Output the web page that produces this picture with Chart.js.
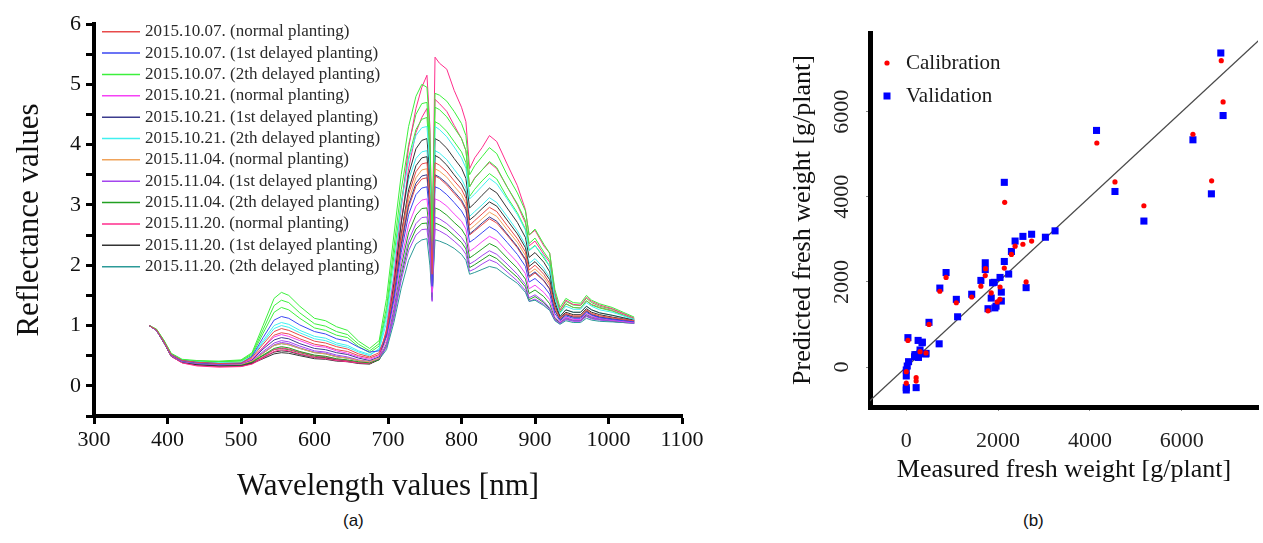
<!DOCTYPE html>
<html lang="en">
<head>
    <meta charset="UTF-8">
    <title>Reflectance spectra and fresh weight prediction</title>
    <script src="https://cdn.jsdelivr.net/npm/chart.js@4.4.1/dist/chart.umd.min.js"></script>
    <style>
        body { margin: 0; background: #fff; width: 1263px; height: 543px; overflow: hidden; position: relative; }
        .panel { position: absolute; top: 0; }
        .tag { position: absolute; top: 512px; font: 17px "Liberation Sans", Arial, sans-serif; line-height: 1; color: #111; }
    </style>
</head>
<body>
    <div class="panel" style="left:0px; width:720px; height:505px;"><canvas id="spectra" width="720" height="505"></canvas></div>
    <div class="panel" style="left:780px; width:483px; height:505px;"><canvas id="weight" width="483" height="505"></canvas></div>
    <div class="tag" style="left:343px;">(a)</div>
    <div class="tag" style="left:1023px;">(b)</div>

    <script>
        // ---- panel (a): reflectance spectra ----
        const wavelengths = [375,385,395,405,420,440,470,500,515,530,545,555,565,580,600,615,630,645,660,675,
            688,698,708,718,728,738,746,753,757,760,764,770,780,790,800,806,811,818,
            828,838,848,862,876,887,892,900,912,920,927,934,942,952,962,970,977,988,1005,1020,1035];

        const refl_1007_normal = [1.0,0.93,0.74,0.52,0.42,0.39,0.37,0.38,
            0.47,0.69,0.90,0.95,0.92,0.84,0.74,0.71,0.65,0.61,0.53,0.48,
            0.55,0.89,1.59,2.48,3.18,3.55,3.68,3.70, 3.15,1.85,3.70,
            3.66,3.55,3.40,3.26,3.11,2.66,2.74,
            2.85,2.96,2.89,2.66,2.44,2.22,1.92,2.00,1.85,1.70,
            1.30,1.12,1.20,1.16,1.16,1.26,1.20,1.16,1.13,1.10,1.08];
        const refl_1007_1st = [1.0,0.92,0.73,0.51,0.41,0.38,0.36,0.37,
            0.49,0.80,1.09,1.15,1.12,1.01,0.90,0.86,0.78,0.74,0.64,0.56,
            0.58,0.82,1.42,2.21,2.84,3.17,3.28,3.30, 2.80,1.65,3.30,
            3.27,3.17,3.04,2.90,2.77,2.38,2.44,
            2.54,2.64,2.57,2.38,2.18,1.98,1.72,1.78,1.65,1.52,
            1.20,1.08,1.16,1.12,1.12,1.22,1.17,1.13,1.10,1.08,1.06];
        const refl_1007_2th = [1.0,0.94,0.76,0.54,0.44,0.42,0.41,0.43,
            0.55,1.00,1.45,1.55,1.50,1.32,1.12,1.08,0.98,0.92,0.74,0.62,
            0.75,1.45,2.50,3.50,4.30,4.80,5.00,4.95, 4.20,2.40,4.85,
            4.82,4.72,4.55,4.35,4.15,3.50,3.65,
            3.80,3.95,3.85,3.50,3.20,2.90,2.50,2.60,2.35,2.20,
            1.60,1.30,1.45,1.38,1.37,1.50,1.42,1.36,1.30,1.22,1.14];
        const refl_1021_normal = [1.0,0.92,0.73,0.51,0.41,0.38,0.36,0.37,
            0.44,0.63,0.81,0.85,0.82,0.75,0.66,0.64,0.58,0.54,0.48,0.44,
            0.50,0.75,1.33,2.08,2.67,2.98,3.08,3.10, 2.64,1.55,3.10,
            3.07,2.98,2.85,2.73,2.60,2.23,2.29,
            2.39,2.48,2.42,2.23,2.05,1.86,1.61,1.67,1.55,1.43,
            1.15,1.06,1.14,1.10,1.10,1.20,1.15,1.12,1.09,1.07,1.05];
        const refl_1021_1st = [1.0,0.93,0.74,0.52,0.42,0.39,0.37,0.37,
            0.43,0.61,0.76,0.80,0.78,0.70,0.62,0.60,0.55,0.52,0.46,0.42,
            0.48,0.84,1.50,2.35,3.00,3.36,3.48,3.50, 2.98,1.75,3.50,
            3.46,3.36,3.22,3.08,2.94,2.52,2.59,
            2.70,2.80,2.73,2.52,2.31,2.10,1.82,1.89,1.75,1.61,
            1.25,1.10,1.18,1.14,1.14,1.24,1.18,1.14,1.11,1.09,1.07];
        const refl_1021_2th = [1.0,0.93,0.75,0.53,0.43,0.40,0.38,0.39,
            0.48,0.72,0.95,1.00,0.97,0.88,0.78,0.75,0.68,0.64,0.56,0.50,
            0.62,1.15,2.00,3.00,3.75,4.15,4.28,4.30, 3.65,2.15,4.30,
            4.25,4.13,3.96,3.78,3.61,3.10,3.18,
            3.31,3.44,3.35,3.10,2.84,2.58,2.24,2.32,2.15,1.98,
            1.45,1.20,1.32,1.27,1.27,1.38,1.32,1.26,1.22,1.16,1.10];
        const refl_1104_normal = [1.0,0.92,0.73,0.51,0.41,0.38,0.36,0.36,
            0.41,0.54,0.67,0.70,0.68,0.62,0.55,0.53,0.48,0.46,0.42,0.40,
            0.46,0.82,1.50,2.40,3.08,3.45,3.58,3.60, 3.06,1.80,3.60,
            3.56,3.46,3.31,3.17,3.02,2.59,2.66,
            2.77,2.88,2.81,2.59,2.38,2.16,1.87,1.94,1.80,1.66,
            1.28,1.10,1.19,1.15,1.15,1.25,1.19,1.15,1.12,1.10,1.07];
        const refl_1104_1st = [1.0,0.92,0.73,0.50,0.40,0.37,0.35,0.36,
            0.42,0.57,0.71,0.75,0.73,0.66,0.58,0.56,0.51,0.48,0.43,0.40,
            0.45,0.68,1.20,1.88,2.41,2.69,2.79,2.80, 2.38,1.40,2.80,
            2.77,2.69,2.58,2.46,2.35,2.02,2.07,
            2.16,2.24,2.18,2.02,1.85,1.68,1.46,1.51,1.40,1.29,
            1.10,1.04,1.12,1.08,1.08,1.17,1.13,1.10,1.08,1.06,1.04];
        const refl_1104_2th = [1.0,0.92,0.72,0.50,0.40,0.37,0.35,0.35,
            0.40,0.51,0.62,0.65,0.63,0.57,0.51,0.49,0.45,0.43,0.40,0.38,
            0.44,0.70,1.27,1.98,2.54,2.83,2.94,2.95, 2.50,1.48,2.95,
            2.92,2.83,2.71,2.60,2.48,2.12,2.18,
            2.27,2.36,2.30,2.12,1.95,1.77,1.53,1.59,1.48,1.36,
            1.12,1.05,1.13,1.09,1.09,1.18,1.14,1.11,1.08,1.06,1.05];
        const refl_1120_normal = [1.0,0.92,0.72,0.49,0.38,0.33,0.31,0.32,
            0.36,0.46,0.57,0.60,0.58,0.53,0.47,0.45,0.42,0.40,0.38,0.37,
            0.45,0.95,1.80,2.95,3.95,4.60,4.95,5.15, 4.30,2.30,5.45,
            5.35,5.25,4.90,4.62,4.38,3.60,3.78,
            3.95,4.15,4.05,3.68,3.32,2.92,2.50,2.58,2.32,2.20,
            1.55,1.25,1.42,1.35,1.34,1.47,1.40,1.34,1.28,1.20,1.12];
        const refl_1120_1st = [1.0,0.92,0.72,0.49,0.39,0.35,0.33,0.33,
            0.37,0.45,0.53,0.55,0.54,0.50,0.45,0.44,0.41,0.40,0.37,0.36,
            0.44,0.90,1.70,2.70,3.50,3.93,4.07,4.10, 3.48,2.05,4.10,
            4.06,3.94,3.77,3.61,3.44,2.95,3.03,
            3.16,3.28,3.20,2.95,2.71,2.46,2.13,2.21,2.05,1.89,
            1.40,1.15,1.26,1.22,1.22,1.32,1.26,1.21,1.17,1.13,1.09];
        const refl_1120_2th = [1.0,0.93,0.73,0.50,0.40,0.37,0.35,0.35,
            0.41,0.54,0.67,0.70,0.68,0.62,0.55,0.53,0.48,0.46,0.42,0.40,
            0.44,0.60,1.05,1.62,2.08,2.35,2.42,2.44, 2.00,1.47,2.42,
            2.40,2.35,2.28,2.18,2.08,1.85,1.88,
            1.93,1.98,1.95,1.82,1.70,1.55,1.40,1.42,1.33,1.25,
            1.08,1.02,1.08,1.05,1.05,1.12,1.09,1.07,1.06,1.05,1.04];

        // further plants of the same dates (no legend entry of their own)
        const rep_1007_2th_a = [1.0,0.94,0.75,0.53,0.43,0.41,0.40,0.42,
            0.53,0.93,1.33,1.42,1.38,1.21,1.03,0.99,0.90,0.85,0.69,0.58,
            0.70,1.30,2.30,3.25,4.00,4.50,4.68,4.70, 3.95,2.30,4.62,
            4.58,4.46,4.28,4.10,3.90,3.30,3.44,
            3.58,3.72,3.62,3.30,3.02,2.74,2.36,2.45,2.22,2.08,
            1.52,1.26,1.40,1.34,1.33,1.45,1.38,1.32,1.27,1.20,1.12];
        const rep_1007_2th_b = [1.0,0.93,0.75,0.53,0.43,0.41,0.40,0.41,
            0.51,0.87,1.22,1.30,1.26,1.12,0.96,0.92,0.84,0.80,0.65,0.55,
            0.66,1.20,2.15,3.05,3.78,4.25,4.42,4.45, 3.75,2.20,4.38,
            4.34,4.22,4.05,3.88,3.70,3.14,3.26,
            3.40,3.52,3.43,3.13,2.87,2.60,2.25,2.33,2.12,1.98,
            1.47,1.22,1.36,1.30,1.29,1.41,1.34,1.29,1.24,1.17,1.10];
        const rep_1120_normal = [1.0,0.92,0.72,0.49,0.38,0.34,0.32,0.32,
            0.37,0.48,0.60,0.63,0.61,0.56,0.50,0.48,0.44,0.42,0.39,0.38,
            0.45,0.90,1.68,2.70,3.60,4.20,4.45,4.60, 3.90,2.20,4.75,
            4.68,4.55,4.32,4.10,3.90,3.30,3.45,
            3.58,3.70,3.60,3.30,3.00,2.70,2.32,2.40,2.18,2.05,
            1.48,1.22,1.36,1.30,1.29,1.41,1.35,1.30,1.25,1.18,1.10];
        const rep_1120_1st = [1.0,0.92,0.72,0.49,0.39,0.35,0.33,0.34,
            0.38,0.47,0.56,0.58,0.57,0.52,0.47,0.46,0.43,0.41,0.38,0.37,
            0.44,0.86,1.60,2.52,3.25,3.65,3.78,3.80, 3.22,1.90,3.82,
            3.78,3.66,3.50,3.35,3.20,2.75,2.82,
            2.94,3.05,2.98,2.75,2.52,2.29,1.98,2.06,1.90,1.76,
            1.34,1.13,1.22,1.18,1.18,1.28,1.22,1.18,1.14,1.11,1.08];
        const rep_1021_2th = [1.0,0.93,0.75,0.53,0.43,0.40,0.38,0.39,
            0.49,0.75,1.00,1.05,1.02,0.92,0.82,0.79,0.71,0.67,0.58,0.52,
            0.60,1.05,1.82,2.75,3.42,3.77,3.88,3.90, 3.30,1.95,3.90,
            3.86,3.75,3.59,3.43,3.28,2.81,2.89,
            3.00,3.12,3.04,2.81,2.57,2.34,2.03,2.11,1.95,1.80,
            1.38,1.16,1.26,1.22,1.22,1.32,1.26,1.21,1.17,1.13,1.09];
        const rep_1104_1st = [1.0,0.92,0.72,0.50,0.40,0.37,0.35,0.35,
            0.41,0.55,0.68,0.72,0.70,0.63,0.56,0.54,0.49,0.46,0.42,0.39,
            0.44,0.64,1.12,1.75,2.24,2.50,2.59,2.60, 2.20,1.42,2.60,
            2.57,2.50,2.40,2.29,2.18,1.90,1.94,
            2.02,2.09,2.04,1.89,1.74,1.58,1.40,1.44,1.35,1.26,
            1.09,1.03,1.10,1.07,1.07,1.15,1.11,1.09,1.07,1.05,1.04];
        const rep_1104_2th = [1.0,0.92,0.72,0.50,0.40,0.37,0.35,0.35,
            0.39,0.50,0.60,0.62,0.60,0.55,0.49,0.47,0.44,0.42,0.39,0.37,
            0.43,0.66,1.17,1.82,2.33,2.60,2.69,2.70, 2.30,1.45,2.70,
            2.67,2.60,2.49,2.38,2.27,1.96,2.01,
            2.09,2.17,2.11,1.95,1.80,1.64,1.43,1.48,1.38,1.28,
            1.10,1.04,1.11,1.08,1.08,1.16,1.12,1.10,1.07,1.05,1.04];
        const rep_1007_normal = [1.0,0.93,0.74,0.52,0.42,0.39,0.37,0.37,
            0.45,0.64,0.84,0.88,0.86,0.78,0.69,0.66,0.60,0.57,0.50,0.46,
            0.52,0.82,1.47,2.30,2.96,3.31,3.43,3.45, 2.94,1.78,3.48,
            3.44,3.33,3.19,3.05,2.91,2.50,2.57,
            2.67,2.77,2.70,2.50,2.29,2.08,1.80,1.87,1.74,1.60,
            1.25,1.10,1.18,1.14,1.14,1.24,1.18,1.14,1.11,1.09,1.07];

        const seriesLabels = [
            '2015.10.07. (normal planting)', '2015.10.07. (1st delayed planting)', '2015.10.07. (2th delayed planting)',
            '2015.10.21. (normal planting)', '2015.10.21. (1st delayed planting)', '2015.10.21. (2th delayed planting)',
            '2015.11.04. (normal planting)', '2015.11.04. (1st delayed planting)', '2015.11.04. (2th delayed planting)',
            '2015.11.20. (normal planting)', '2015.11.20. (1st delayed planting)', '2015.11.20. (2th delayed planting)'
        ];
        const seriesValues = [refl_1007_normal, refl_1007_1st, refl_1007_2th, refl_1021_normal, refl_1021_1st, refl_1021_2th,
            refl_1104_normal, refl_1104_1st, refl_1104_2th, refl_1120_normal, refl_1120_1st, refl_1120_2th];
        const seriesColors = ['#e84a4a', '#3a46f2', '#3cf03c', '#f542f5', '#3c3c8e', '#40f0f0',
            '#f0a35a', '#a445ee', '#22a022', '#ff2d8c', '#333333', '#2c9a98'];
        const replicateValues = [rep_1007_2th_a, rep_1007_2th_b, rep_1120_normal, rep_1120_1st,
            rep_1021_2th, rep_1104_1st, rep_1104_2th, rep_1007_normal];
        const replicateGroup = [2, 2, 9, 10, 5, 7, 8, 0];
        const xTicksA = [300,350,400,450,500,550,600,650,700,750,800,850,900,950,1000,1050,1100];
        const yTicksA = [-0.5,0,0.5,1,1.5,2,2.5,3,3.5,4,4.5,5,5.5,6];

        // ---- panel (b): measured vs predicted fresh weight ----
        const calMeasured = [6860,6900,4150,6243,4545,6650,5175,2143,2730,2540,2370,2290,2135,2042,2610,1720,1727,1625,1850,
            1980,2040,1780,1425,1090,867,731,495,36,300,430,0,0,215,215];
        const calPredicted = [7200,6230,5265,5470,4350,4375,3790,3870,2960,2885,2840,2645,2325,1880,2000,2150,2310,1900,1740,
            1530,1590,1320,1645,1510,2105,1780,1000,625,360,330,-110,-380,-250,-330];
        const valMeasured = [6850,6900,4143,6243,4545,6645,5175,2135,3240,3030,2730,2540,2370,2290,2135,2230,2042,2610,
            1720,1720,1625,1880,1915,1850,2070,2070,1955,1930,1780,1425,1090,867,731,1118,495,716,
            36,258,344,300,300,430,187,222,50,21,0,0,0,0,215,180,266,350,423];
        const valPredicted = [7380,5910,5560,5340,4125,4070,3430,4340,3200,3050,3120,3070,2960,2715,2480,2185,2105,1865,
            2450,2290,2035,1980,1990,1620,1760,1550,1430,1390,1370,1710,1590,2220,1855,1180,1050,545,
            690,625,570,400,320,320,290,290,125,23,-70,-210,-485,-540,-485,240,225,585,305];
        const oneToOne = [-900, 7900];
        const xTicksB = [0,2000,4000,6000];
        const yTicksB = [0,2000,4000,6000];

        const serif = '"Liberation Serif", "Times New Roman", serif';

        // small legend drawn at a fixed offset inside the plot area
        const panelLegend = {
            id: 'panelLegend',
            afterDraw(chart, args, o) {
                const {ctx, chartArea} = chart;
                ctx.save();
                ctx.font = o.font;
                ctx.textBaseline = 'middle';
                let row = 0;
                chart.data.datasets.forEach(ds => {
                    if (!ds.label) return;
                    const x = chartArea.left + o.x;
                    const y = chartArea.top + o.y + row * o.rowH;
                    if (o.symbol === 'line') {
                        ctx.strokeStyle = ds.borderColor;
                        ctx.lineWidth = 1.5;
                        ctx.beginPath();
                        ctx.moveTo(x, y);
                        ctx.lineTo(x + o.symbolW, y);
                        ctx.stroke();
                    } else {
                        ctx.fillStyle = ds.backgroundColor;
                        const cx = x + o.symbolW / 2;
                        if (ds.pointStyle === 'rect') {
                            ctx.fillRect(cx - 3.5, y - 3.5, 7, 7);
                        } else {
                            ctx.beginPath();
                            ctx.arc(cx, y, 2.6, 0, Math.PI * 2);
                            ctx.fill();
                        }
                    }
                    ctx.fillStyle = o.color;
                    ctx.fillText(ds.label, x + o.symbolW + o.gap, y);
                    row++;
                });
                ctx.restore();
            }
        };

        const spectraDatasets = seriesValues.map((vals, i) => ({
            label: seriesLabels[i],
            data: wavelengths.map((w, j) => ({x: w, y: vals[j]})),
            borderColor: seriesColors[i],
            borderWidth: 1,
            pointRadius: 0,
            fill: false,
            tension: 0
        }));
        replicateValues.forEach((vals, i) => {
            spectraDatasets.push({
                label: '',
                data: wavelengths.map((w, j) => ({x: w, y: vals[j]})),
                borderColor: seriesColors[replicateGroup[i]],
                borderWidth: 1,
                pointRadius: 0,
                fill: false,
                tension: 0
            });
        });

        new Chart(document.getElementById('spectra'), {
            type: 'line',
            data: { datasets: spectraDatasets },
            plugins: [panelLegend],
            options: {
                responsive: false,
                animation: false,
                devicePixelRatio: 1,
                layout: { padding: { top: 24, right: 38, left: 0, bottom: 0 } },
                plugins: {
                    legend: { display: false },
                    tooltip: { enabled: false },
                    panelLegend: { x: 8, y: 7.7, rowH: 21.36, symbolW: 38, gap: 5, symbol: 'line',
                        font: '17px ' + serif, color: '#2a2a2a' }
                },
                scales: {
                    x: {
                        type: 'linear', min: 300, max: 1100,
                        afterBuildTicks: s => { s.ticks = xTicksA.map(v => ({value: v})); },
                        afterFit: s => { s.height = 89; },
                        grid: { drawOnChartArea: false, tickLength: 8, tickWidth: 3, tickColor: '#000' },
                        border: { color: '#000', width: 4 },
                        ticks: { color: '#111', padding: 3, maxRotation: 0, font: { family: serif, size: 22 },
                            callback: v => v % 100 === 0 ? String(v) : '' },
                        title: { display: true, text: 'Wavelength values [nm]', color: '#111',
                            font: { family: serif, size: 31, lineHeight: 1.15 }, padding: { top: 0, bottom: 0 } }
                    },
                    y: {
                        min: -0.5, max: 6,
                        afterBuildTicks: s => { s.ticks = yTicksA.map(v => ({value: v})); },
                        afterFit: s => { s.width = 94; },
                        grid: { drawOnChartArea: false, tickLength: 8, tickWidth: 3, tickColor: '#000' },
                        border: { color: '#000', width: 4 },
                        ticks: { color: '#111', padding: 5, font: { family: serif, size: 22 },
                            callback: v => Number.isInteger(v) ? String(v) : '' },
                        title: { display: true, text: 'Reflectance values', color: '#111',
                            font: { family: serif, size: 31, lineHeight: 1.15 }, padding: { top: 12, bottom: 0 } }
                    }
                }
            }
        });

        new Chart(document.getElementById('weight'), {
            type: 'scatter',
            data: {
                datasets: [
                    {
                        label: 'Calibration',
                        data: calMeasured.map((m, i) => ({x: m, y: calPredicted[i]})),
                        pointStyle: 'circle', pointRadius: 2.6, borderWidth: 0,
                        backgroundColor: '#ff0000', borderColor: '#ff0000'
                    },
                    {
                        label: 'Validation',
                        data: valMeasured.map((m, i) => ({x: m, y: valPredicted[i]})),
                        pointStyle: 'rect', pointRadius: 5, borderWidth: 0,
                        backgroundColor: '#0000ff', borderColor: '#0000ff'
                    },
                    {
                        label: '',
                        type: 'line',
                        data: oneToOne.map(v => ({x: v, y: v})),
                        borderColor: '#4a4a4a', borderWidth: 1.4, pointRadius: 0, fill: false
                    }
                ]
            },
            plugins: [panelLegend],
            options: {
                responsive: false,
                animation: false,
                devicePixelRatio: 1,
                layout: { padding: { top: 33, right: 0, left: 0, bottom: 0 } },
                plugins: {
                    legend: { display: false },
                    tooltip: { enabled: false },
                    panelLegend: { x: 12, y: 30, rowH: 33, symbolW: 10, gap: 14, symbol: 'point',
                        font: '21px ' + serif, color: '#1a1a1a' }
                },
                scales: {
                    x: {
                        type: 'linear', min: -790, max: 7660,
                        afterBuildTicks: s => { s.ticks = xTicksB.map(v => ({value: v})); },
                        afterFit: s => { s.height = 98; },
                        grid: { drawOnChartArea: false, tickLength: 4, tickWidth: 1, tickColor: '#888' },
                        border: { color: '#000', width: 5 },
                        ticks: { color: '#222', padding: 17, maxRotation: 0, font: { family: serif, size: 22 },
                            callback: v => String(v) },
                        title: { display: true, text: 'Measured fresh weight [g/plant]', color: '#111',
                            font: { family: serif, size: 26, lineHeight: 1.15 }, padding: { top: 0, bottom: 20 } }
                    },
                    y: {
                        min: -940, max: 7850,
                        afterBuildTicks: s => { s.ticks = yTicksB.map(v => ({value: v})); },
                        afterFit: s => { s.width = 90; },
                        grid: { drawOnChartArea: false, tickLength: 4, tickWidth: 1, tickColor: '#888' },
                        border: { color: '#000', width: 5 },
                        ticks: { color: '#222', padding: 2, minRotation: 90, maxRotation: 90, crossAlign: 'center',
                            font: { family: serif, size: 22 }, callback: v => String(v) },
                        title: { display: true, text: 'Predicted fresh weight [g/plant]', color: '#111',
                            font: { family: serif, size: 26, lineHeight: 1.15 }, padding: { top: 8, bottom: 0 } }
                    }
                }
            }
        });
    </script>
</body>
</html>
